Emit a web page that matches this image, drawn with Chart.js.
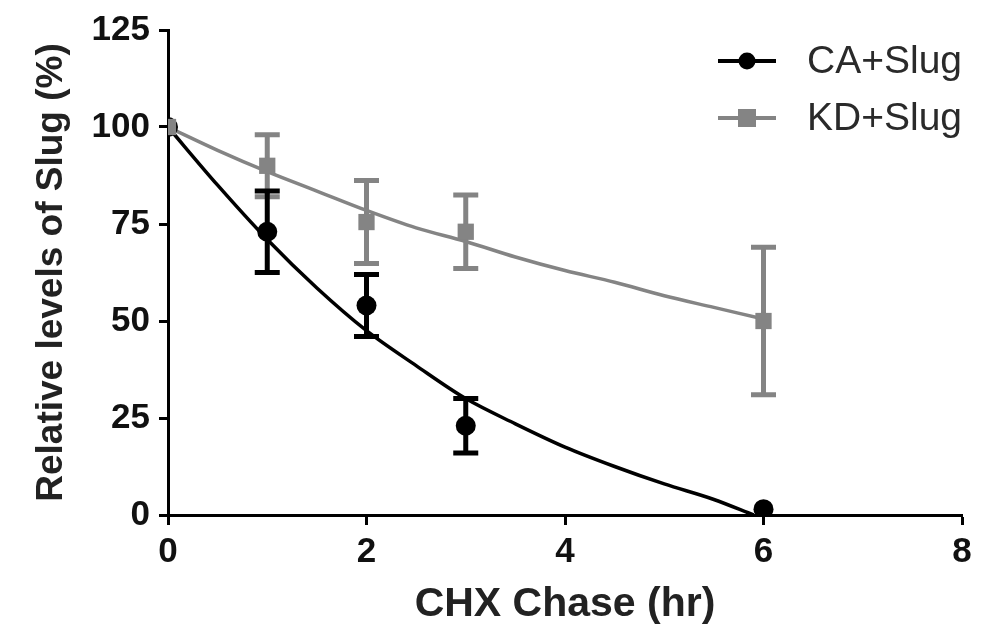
<!DOCTYPE html>
<html>
<head>
<meta charset="utf-8">
<script src="https://cdn.jsdelivr.net/npm/chart.js@4.4.1/dist/chart.umd.min.js"></script>
<style>
  html, body { margin: 0; padding: 0; background: #fff; }
  #wrap { width: 1005px; height: 630px; }
</style>
</head>
<body>
<div id="wrap"><canvas id="chart1" width="1005" height="630"></canvas></div>
<script>
// measured points (hours)
var hours = [0, 1, 2, 3, 6];
var caValues = [100, 73, 54, 23, 1.5];
var caErrors = [0, 10.5, 8, 7, 0];
var kdValues = [100, 90, 75.5, 73, 50];
var kdErrors = [0, 8, 10.7, 9.5, 19];

// fitted decay curves
var fitHours = [0, 0.5, 1, 1.5, 2, 2.5, 3, 3.5, 4, 4.5, 5, 5.5, 5.9];
var caFit = [100, 85, 71, 58.5, 47.5, 38.5, 30, 23.5, 17.5, 12.5, 8, 4, 0];
var kdFitHours = [0, 0.5, 1, 1.5, 2, 2.5, 3, 3.5, 4, 4.5, 5, 5.5, 6];
var kdFit = [100, 94, 88.5, 83.5, 78.5, 74, 70.5, 66.5, 63, 60, 56.5, 53.5, 50.5];

var xTicks = [0, 2, 4, 6, 8];
var yTicks = [0, 25, 50, 75, 100, 125];
var seriesNames = ['CA+Slug', 'KD+Slug'];

var black = '#000000';
var gray = '#848484';

function pts(xs, ys) {
  return xs.map(function (x, i) { return { x: x, y: ys[i] }; });
}

// error bars drawn under the markers
var errorBars = {
  id: 'errorBars',
  beforeDatasetsDraw: function (chart) {
    var ctx = chart.ctx;
    var xs = chart.scales.x, ys = chart.scales.y;
    var sets = [
      { v: kdValues, e: kdErrors, c: gray },
      { v: caValues, e: caErrors, c: black }
    ];
    ctx.save();
    sets.forEach(function (s) {
      ctx.strokeStyle = s.c;
      ctx.lineWidth = 5;
      hours.forEach(function (h, i) {
        if (!s.e[i]) return;
        var px = xs.getPixelForValue(h);
        var top = ys.getPixelForValue(s.v[i] + s.e[i]);
        var bot = ys.getPixelForValue(s.v[i] - s.e[i]);
        ctx.beginPath();
        ctx.moveTo(px, top); ctx.lineTo(px, bot);
        ctx.moveTo(px - 12.5, top); ctx.lineTo(px + 12.5, top);
        ctx.moveTo(px - 12.5, bot); ctx.lineTo(px + 12.5, bot);
        ctx.stroke();
      });
    });
    ctx.restore();
  }
};

// legend: line with marker, then name
var lineLegend = {
  id: 'lineLegend',
  afterDraw: function (chart) {
    var ctx = chart.ctx;
    var rows = [
      { name: seriesNames[0], c: black, y: 61, shape: 'circle' },
      { name: seriesNames[1], c: gray, y: 118, shape: 'rect' }
    ];
    ctx.save();
    rows.forEach(function (r) {
      ctx.strokeStyle = r.c;
      ctx.fillStyle = r.c;
      ctx.lineWidth = 4;
      ctx.beginPath();
      ctx.moveTo(718, r.y); ctx.lineTo(776, r.y);
      ctx.stroke();
      if (r.shape === 'circle') {
        ctx.beginPath();
        ctx.arc(747, r.y, 8.5, 0, Math.PI * 2);
        ctx.fill();
      } else {
        ctx.fillRect(738, r.y - 9, 18, 18);
      }
      ctx.fillStyle = '#2a2a2a';
      ctx.font = '39px "Liberation Sans", Arial, sans-serif';
      ctx.textBaseline = 'middle';
      ctx.fillText(r.name, 807, r.y + 1);
    });
    ctx.restore();
  }
};

var ctx = document.getElementById('chart1').getContext('2d');
var myChart = new Chart(ctx, {
  type: 'scatter',
  data: {
    datasets: [
      {
        label: seriesNames[1],
        data: pts(hours, kdValues),
        pointStyle: 'rect',
        pointRadius: 11.5,
        pointBackgroundColor: gray,
        pointBorderWidth: 0,
        showLine: false
      },
      {
        label: seriesNames[0],
        data: pts(hours, caValues),
        pointStyle: 'circle',
        pointRadius: 10,
        pointBackgroundColor: black,
        pointBorderWidth: 0,
        showLine: false
      },
      {
        label: 'kd fit',
        data: pts(kdFitHours, kdFit),
        showLine: true,
        borderColor: gray,
        borderWidth: 3.5,
        pointRadius: 0,
        cubicInterpolationMode: 'monotone'
      },
      {
        label: 'ca fit',
        data: pts(fitHours, caFit),
        showLine: true,
        borderColor: black,
        borderWidth: 3.5,
        pointRadius: 0,
        cubicInterpolationMode: 'monotone'
      }
    ]
  },
  options: {
    responsive: false,
    animation: false,
    layout: { padding: { top: 27, right: 43, left: 0, bottom: 0 } },
    plugins: {
      legend: { display: false },
      tooltip: { enabled: false }
    },
    scales: {
      x: {
        type: 'linear',
        min: 0, max: 8,
        afterBuildTicks: function (s) { s.ticks = xTicks.map(function (v) { return { value: v }; }); },
        afterFit: function (s) { s.height = 115; },
        border: { display: true, color: black, width: 3 },
        grid: { drawOnChartArea: false, drawTicks: true, tickLength: 10, tickWidth: 3, tickColor: black },
        ticks: {
          color: '#111', padding: 6,
          font: { family: '"Liberation Sans", Arial, sans-serif', size: 35, weight: 'bold' }
        },
        title: {
          display: true, text: 'CHX Chase (hr)', color: '#222',
          padding: { top: 0, bottom: 1 },
          font: { family: '"Liberation Sans", Arial, sans-serif', size: 41, weight: 'bold' }
        }
      },
      y: {
        type: 'linear',
        min: 0, max: 125,
        afterBuildTicks: function (s) { s.ticks = yTicks.map(function (v) { return { value: v }; }); },
        afterFit: function (s) { s.width = 168; },
        border: { display: true, color: black, width: 3 },
        grid: { drawOnChartArea: false, drawTicks: true, tickLength: 9, tickWidth: 3, tickColor: black },
        ticks: {
          color: '#111', padding: 9,
          font: { family: '"Liberation Sans", Arial, sans-serif', size: 35, weight: 'bold' }
        },
        title: {
          display: true, text: 'Relative levels of Slug (%)', color: '#222',
          padding: { top: 30, bottom: 0 },
          font: { family: '"Liberation Sans", Arial, sans-serif', size: 37, weight: 'bold' }
        }
      }
    }
  },
  plugins: [errorBars, lineLegend]
});
</script>
</body>
</html>
